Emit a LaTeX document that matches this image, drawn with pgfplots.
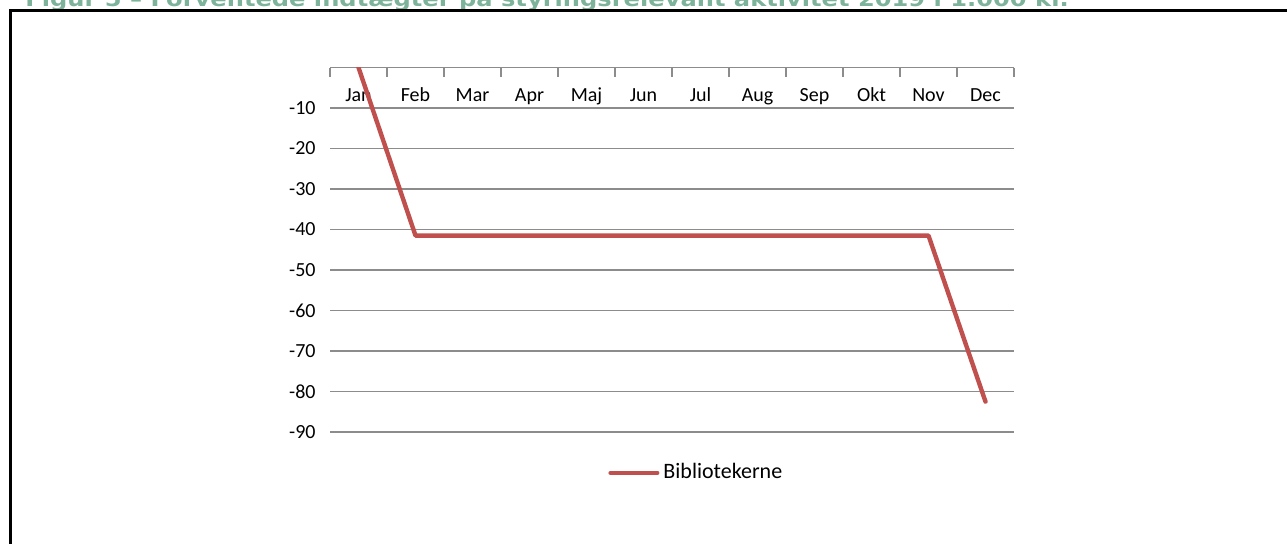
\documentclass[border=0pt]{standalone}
\usepackage{pgfplots}
\pgfplotsset{compat=1.18}
\usepackage{fontspec}
\setmainfont{Carlito}
\newfontfamily\titlefont{DejaVu Sans}
\definecolor{seriesred}{HTML}{C0504D}
\definecolor{gridgrey}{HTML}{8C8C8C}
\definecolor{titlegreen}{HTML}{7DB39A}

\pgfplotstableread{
m  val
1  0
2  -41.5
3  -41.5
4  -41.5
5  -41.5
6  -41.5
7  -41.5
8  -41.5
9  -41.5
10 -41.5
11 -41.5
12 -82.5
}\biblio

\begin{document}
\begin{tikzpicture}
% page = 1287 x 543 px at 0.5pt per px, origin top left
\useasboundingbox (0,0) rectangle (643.5pt,-271.5pt);
\clip (0,0) rectangle (643.5pt,-271.5pt);
\node[anchor=base west, inner sep=0pt, text=titlegreen, font=\titlefont\bfseries\fontsize{10.5}{12}\selectfont]
  at (12.5pt,-3.3pt) {\scalebox{1.15}[1]{Figur 5 – Forventede indtægter på styringsrelevant aktivitet 2019 i 1.000 kr.}};
\draw[line width=1.5pt] (5pt,-290pt) -- (5pt,-5.25pt) -- (660pt,-5.25pt);
\begin{axis}[
    at={(165pt,-216pt)}, anchor=south west,
    scale only axis, width=342pt, height=182.25pt,
    xmin=0.5, xmax=12.5, ymin=-90, ymax=0,
    axis x line*=top, axis y line*=left,
    x axis line style={draw=gridgrey, line width=0.6pt, -},
    y axis line style={draw=none},
    xtick={0.5,1.5,...,12.5},
    x tick label as interval,
    xticklabels={Jan,Feb,Mar,Apr,Maj,Jun,Jul,Aug,Sep,Okt,Nov,Dec},
    xtick style={draw=gridgrey, line width=0.6pt},
    tick align=inside, major tick length=4.5pt,
    xticklabel style={anchor=center, yshift=-14.25pt, text height=1.4ex, text depth=0.25ex},
    ytick={-90,-80,...,-10},
    ytick style={draw=none},
    yticklabel style={xshift=-3.7pt},
    /pgf/number format/assume math mode=true,
    ymajorgrids, grid style={draw=gridgrey, line width=0.6pt},
    tick label style={font=\fontsize{10}{12}\selectfont, text=black},
    legend style={at={(0.537,-0.112)}, anchor=center, draw=none, fill=none,
                  font=\fontsize{11}{13}\selectfont, inner sep=0pt,
                  /tikz/every even column/.append style={column sep=0pt}},
    legend cell align=left,
    legend image code/.code={\draw[#1, line cap=round] (0cm,0cm) -- (0.82cm,0cm);},
]
\addplot[seriesred, line width=2.2pt, line join=round, line cap=round] table[x=m, y=val] {\biblio};
\addlegendentry{Bibliotekerne}
\end{axis}
\end{tikzpicture}
\end{document}
